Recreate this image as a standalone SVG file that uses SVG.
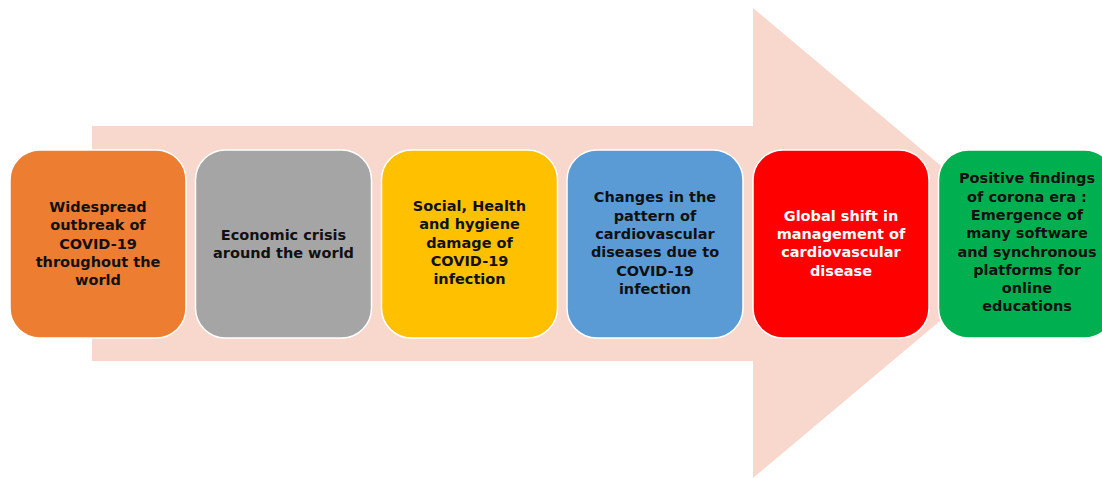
<svg xmlns="http://www.w3.org/2000/svg" width="1102" height="478" viewBox="0 0 1102 478">
  <style>
    .box { stroke: #ffffff; stroke-width: 1.5; }
    .lbl { font-family: "DejaVu Sans", "Liberation Sans", sans-serif; font-weight: bold; font-size: 14.5px; text-anchor: middle; fill: #111111; }
    .lbl.light { fill: #ffffff; }
  </style>
  <rect width="1102" height="478" fill="#ffffff"/>

  <!-- large background arrow -->
  <g id="timeline-arrow">
    <polygon points="92,126 753,126 753,8 1033,243 753,478 753,361 92,361" fill="#F8D8CD"/>
  </g>

  <g id="connectors"></g>

  <g id="step1">
    <rect class="box" x="10" y="150" width="176" height="188" rx="30" fill="#ED7D31"/>
    <text class="lbl" x="98" y="212">Widespread</text>
    <text class="lbl" x="98" y="230.3">outbreak of</text>
    <text class="lbl" x="98" y="248.6">COVID-19</text>
    <text class="lbl" x="98" y="266.9">throughout the</text>
    <text class="lbl" x="98" y="285.2">world</text>
  </g>

  <g id="step2">
    <rect class="box" x="195.5" y="150" width="176" height="188" rx="30" fill="#A5A5A5"/>
    <text class="lbl" x="283.5" y="239.5">Economic crisis</text>
    <text class="lbl" x="283.5" y="257.8">around the world</text>
  </g>

  <g id="step3">
    <rect class="box" x="381.5" y="150" width="176" height="188" rx="30" fill="#FFC000"/>
    <text class="lbl" x="469.5" y="211">Social, Health</text>
    <text class="lbl" x="469.5" y="229.3">and hygiene</text>
    <text class="lbl" x="469.5" y="247.6">damage of</text>
    <text class="lbl" x="469.5" y="265.9">COVID-19</text>
    <text class="lbl" x="469.5" y="284.2">infection</text>
  </g>

  <g id="step4">
    <rect class="box" x="567" y="150" width="176" height="188" rx="30" fill="#5B9BD5"/>
    <text class="lbl" x="655" y="202.3">Changes in the</text>
    <text class="lbl" x="655" y="220.6">pattern of</text>
    <text class="lbl" x="655" y="238.9">cardiovascular</text>
    <text class="lbl" x="655" y="257.2">diseases due to</text>
    <text class="lbl" x="655" y="275.5">COVID-19</text>
    <text class="lbl" x="655" y="293.8">infection</text>
  </g>

  <g id="step5">
    <rect class="box" x="753" y="150" width="176" height="188" rx="30" fill="#FF0000"/>
    <text class="lbl light" x="841" y="220.7">Global shift in</text>
    <text class="lbl light" x="841" y="239">management of</text>
    <text class="lbl light" x="841" y="257.3">cardiovascular</text>
    <text class="lbl light" x="841" y="275.6">disease</text>
  </g>

  <g id="step6">
    <rect class="box" x="938.5" y="150" width="176" height="188" rx="30" fill="#00B050"/>
    <text class="lbl" x="1027" y="183.3">Positive findings</text>
    <text class="lbl" x="1027" y="201.6">of corona era :</text>
    <text class="lbl" x="1027" y="219.9">Emergence of</text>
    <text class="lbl" x="1027" y="238.2">many software</text>
    <text class="lbl" x="1027" y="256.5">and synchronous</text>
    <text class="lbl" x="1027" y="274.8">platforms for</text>
    <text class="lbl" x="1027" y="293.1">online</text>
    <text class="lbl" x="1027" y="311.4">educations</text>
  </g>
</svg>
